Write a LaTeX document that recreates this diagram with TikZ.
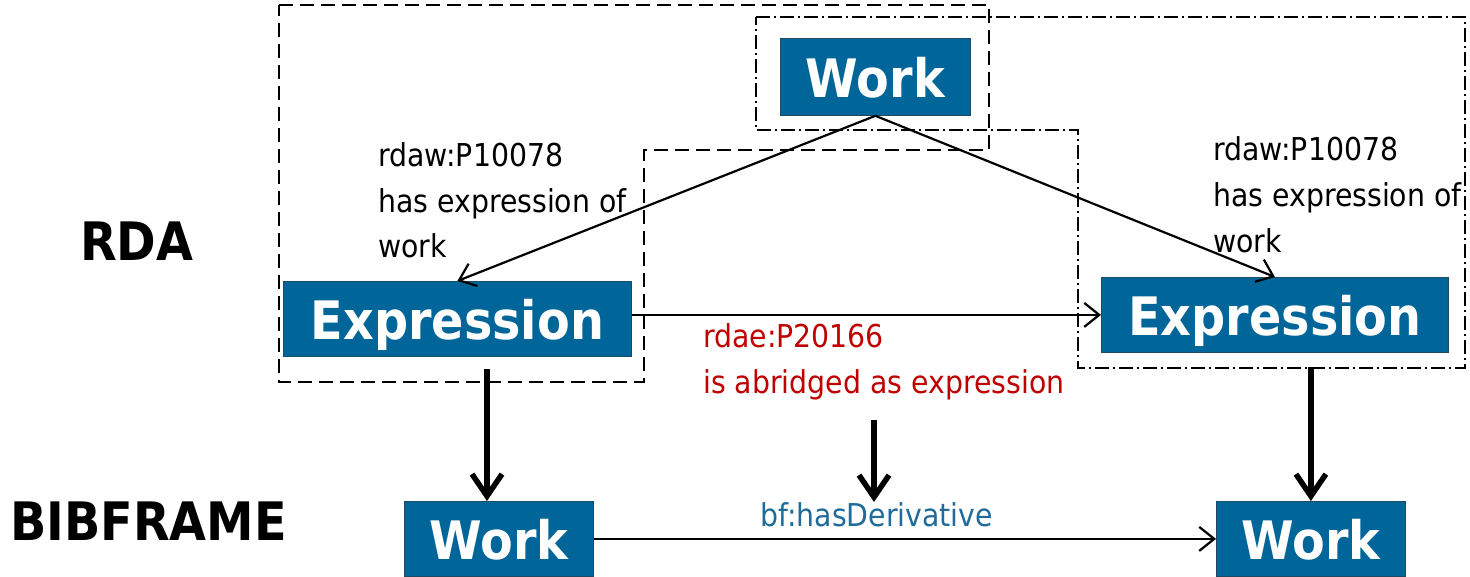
\documentclass[tikz,border=0pt]{standalone}
\usepackage{fontspec}
\setmainfont{DejaVu Sans}[FakeStretch=0.9]
\usetikzlibrary{arrows.meta}
\definecolor{boxblue}{HTML}{006699}
\definecolor{boxedge}{HTML}{1F4A66}
\definecolor{relred}{HTML}{C00000}
\definecolor{relblue}{HTML}{1F6C9C}
\begin{document}
\begin{tikzpicture}[x=1pt,y=-1pt,
  entity/.style={draw=boxedge, line width=0.8pt, fill=boxblue, text=white,
    font=\fontsize{53}{60}\selectfont\bfseries, inner sep=0pt, text depth=0pt,
    anchor=north west},
  lbl/.style={font=\fontsize{31.5}{38}\selectfont, inner sep=0pt, anchor=base west},
  title/.style={font=\fontsize{53}{60}\selectfont\bfseries, inner sep=0pt, anchor=base west},
  thinarrow/.style={line width=2.2pt, -{Straight Barb[length=15pt,width=24pt]}},
  thickarrow/.style={line width=6pt, -{Straight Barb[length=22pt,width=30pt,line width=5.5pt]}},
  dashframe/.style={line width=1.9pt, dash pattern=on 14pt off 7pt},
  dotframe/.style={line width=1.9pt, dash pattern=on 14pt off 4pt on 2pt off 4pt}
]
\useasboundingbox (0,0) rectangle (1470,577);

% frames
\draw[dashframe] (279,5) -- (989,5) -- (989,150) -- (644,150) -- (644,382) -- (279,382) -- cycle;
\draw[dotframe] (756,17) -- (1465,17) -- (1465,368) -- (1078,368) -- (1078,130) -- (756,130) -- cycle;

% entity boxes
\node[entity, minimum width=190pt, minimum height=77pt] (wT) at (780,38) {Work};
\node[entity, minimum width=348pt, minimum height=75pt] (exL) at (283,281) {Expression};
\node[entity, minimum width=347pt, minimum height=75pt] (exR) at (1101,277) {Expression};
\node[entity, minimum width=189pt, minimum height=75pt] (wBL) at (404,501) {Work};
\node[entity, minimum width=189pt, minimum height=75pt] (wBR) at (1216,501) {Work};

% titles
\node[title] (rda) at (80,261) {RDA};
\node[title] (bib) at (10,540) {BIBFRAME};

% labels
\node[lbl] (l1a) at (378,167) {rdaw:P10078};
\node[lbl] (l1b) at (378,212.5) {has expression of};
\node[lbl] (l1c) at (378,258) {work};
\node[lbl] (r1a) at (1213,161) {rdaw:P10078};
\node[lbl] (r1b) at (1213,207) {has expression of};
\node[lbl] (r1c) at (1213,253) {work};
\node[lbl, text=relred] (ma) at (703,348) {rdae:P20166};
\node[lbl, text=relred] (mb) at (703,393) {is abridged as expression};
\node[lbl, text=relblue] (bf) at (760,526) {bf:hasDerivative};

% thin connectors
\draw[thinarrow] (wT.south) -- (exL.north);
\draw[thinarrow] (wT.south) -- (exR.north);
\draw[thinarrow] (exL.east |- exR.west) -- (exR.west);
\draw[thinarrow] (wBL.east) -- (wBR.west);

% thick mapping arrows
\coordinate (tL) at (487,369);
\coordinate (tM) at (874,420);
\coordinate (tMend) at (874,502);
\coordinate (tR) at (wBR.north |- 0,367);
\draw[thickarrow] (tL) -- (tL |- wBL.north);
\draw[thickarrow] (tM) -- (tMend);
\draw[thickarrow] (tR) -- (wBR.north);
\end{tikzpicture}
\end{document}
